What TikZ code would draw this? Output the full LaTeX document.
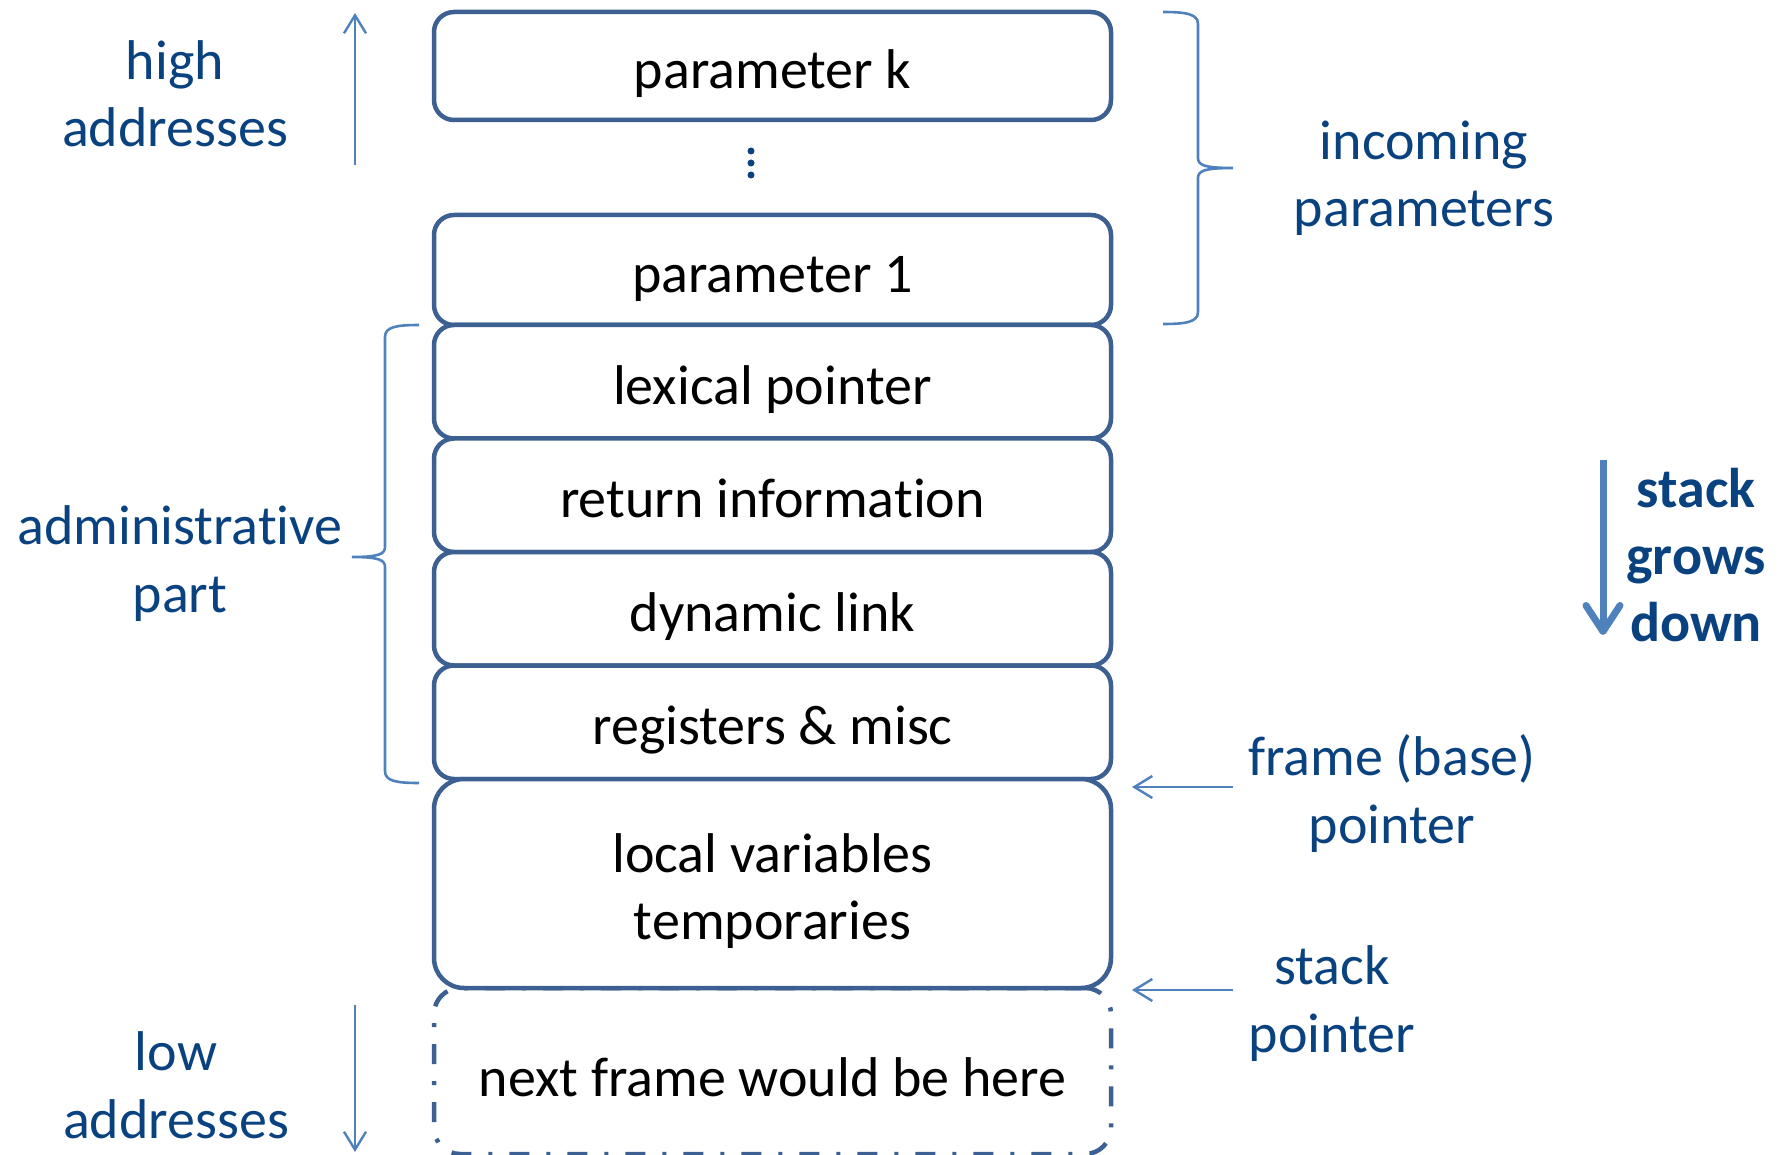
\documentclass[tikz,border=0pt]{standalone}
\usepackage{fontspec}
\setmainfont{Carlito}[Ligatures=NoCommon]
\usetikzlibrary{arrows.meta}
\definecolor{boxline}{RGB}{60,96,145}
\definecolor{linkblue}{RGB}{79,129,189}
\definecolor{lbl}{RGB}{10,66,128}
\newcommand{\st}{\rule[-0.2em]{0pt}{1.2em}}
\begin{document}
\begin{tikzpicture}[x=0.5pt,y=-0.5pt,
  txt/.style={font=\fontsize{28pt}{33.6pt}\selectfont, align=center, inner sep=0pt},
  cell/.style={txt, draw=boxline, line width=2.25pt, fill=white, rounded corners=10pt,
    minimum width=338.5pt},
  lab/.style={txt, text=lbl},
  ptr/.style={draw=linkblue, line width=1.2pt, -{Straight Barb[length=9pt,width=11pt]}},
  bracepath/.style={draw=linkblue, line width=1.3pt}]
\useasboundingbox (0,0) rectangle (1785,1155);

% stack cells
\node[cell, minimum height=54pt] (pk) at (772.5,66) {parameter k\st};
\fill[lbl] (751,151) circle[radius=1.75pt];
\fill[lbl] (751,163) circle[radius=1.75pt];
\fill[lbl] (751,175) circle[radius=1.75pt];
\node[cell, minimum height=55pt] (p1) at (772.5,270) {parameter 1\st};
\node[cell, minimum height=56.75pt] (lex) at (772.5,381.75) {lexical pointer\st};
\node[cell, minimum height=56.75pt] (ret) at (772.5,495.25) {return information\st};
\node[cell, minimum height=56.75pt] (dyn) at (772.5,608.75) {dynamic link\st};
\node[cell, minimum height=56.75pt] (reg) at (772.5,722.25) {registers \& misc\st};
\node[cell, minimum height=83pt, rounded corners=13pt,
  dash pattern=on 10pt off 8.5pt on 2pt off 8.5pt] (nxt) at (772.5,1071) {\raisebox{-1.5pt}{next frame would be here}\st};
\node[cell, minimum height=104.5pt, rounded corners=15pt] (loc) at (772.5,883.5) {local variables\st\\temporaries\st};

% labels
\node[lab] (hi) at (175,91) {high\st\\addresses\st};
\node[lab] (adm) at (180,556) {administrative\st\\part\st};
\node[lab] (lo) at (176,1082) {low\st\\addresses\st};
\node[lab] (inc) at (1424,171) {incoming\st\\parameters\st};
\node[lab] (fp) at (1392,787) {frame (base)\st\\pointer\st};
\node[lab] (sp) at (1332,996) {stack\st\\pointer\st};
\node[lab, font=\fontsize{28pt}{33.6pt}\selectfont\bfseries] (sgd) at (1696,552) {stack\st\\grows\st\\down\st};

% braces
\coordinate (rbT) at (1163,12);
\coordinate (rbB) at (1163,324);
\coordinate (rbP) at (1233,168);
\draw[bracepath] (rbT) .. controls (1186,12) and (1198,14) .. (1198,24) -- (1198,158)
  .. controls (1198,165) and (1204,168) .. (rbP)
  .. controls (1204,168) and (1198,171) .. (1198,178) -- (1198,312)
  .. controls (1198,322) and (1186,324) .. (rbB);
\coordinate (lbT) at (419,325);
\coordinate (lbB) at (419,783);
\coordinate (lbP) at (352,557);
\draw[bracepath] (lbT) .. controls (396,325) and (385,327) .. (385,337) -- (385,547)
  .. controls (385,554) and (379,557) .. (lbP)
  .. controls (379,557) and (385,560) .. (385,567) -- (385,771)
  .. controls (385,781) and (396,783) .. (lbB);

% address arrows
\coordinate (hiS) at (355,165);
\coordinate (hiE) at (355,13);
\draw[ptr] (hiS) -- (hiE);
\coordinate (loS) at (355,1005);
\coordinate (loE) at (355,1152);
\draw[ptr] (loS) -- (loE);

% pointer arrows
\coordinate (fpS) at (1233,787);
\coordinate (fpE) at (1132,787);
\draw[ptr] (fpS) -- (fpE);
\coordinate (spS) at (1233,990);
\coordinate (spE) at (1132,990);
\draw[ptr] (spS) -- (spE);

% stack grows down arrow
\coordinate (sgT) at (1603,460);
\coordinate (sgB) at (1603,635);
\draw[draw=linkblue, line width=3.5pt, -{Straight Barb[length=13pt,width=17pt,round]}] (sgT) -- (sgB);
\end{tikzpicture}
\end{document}
